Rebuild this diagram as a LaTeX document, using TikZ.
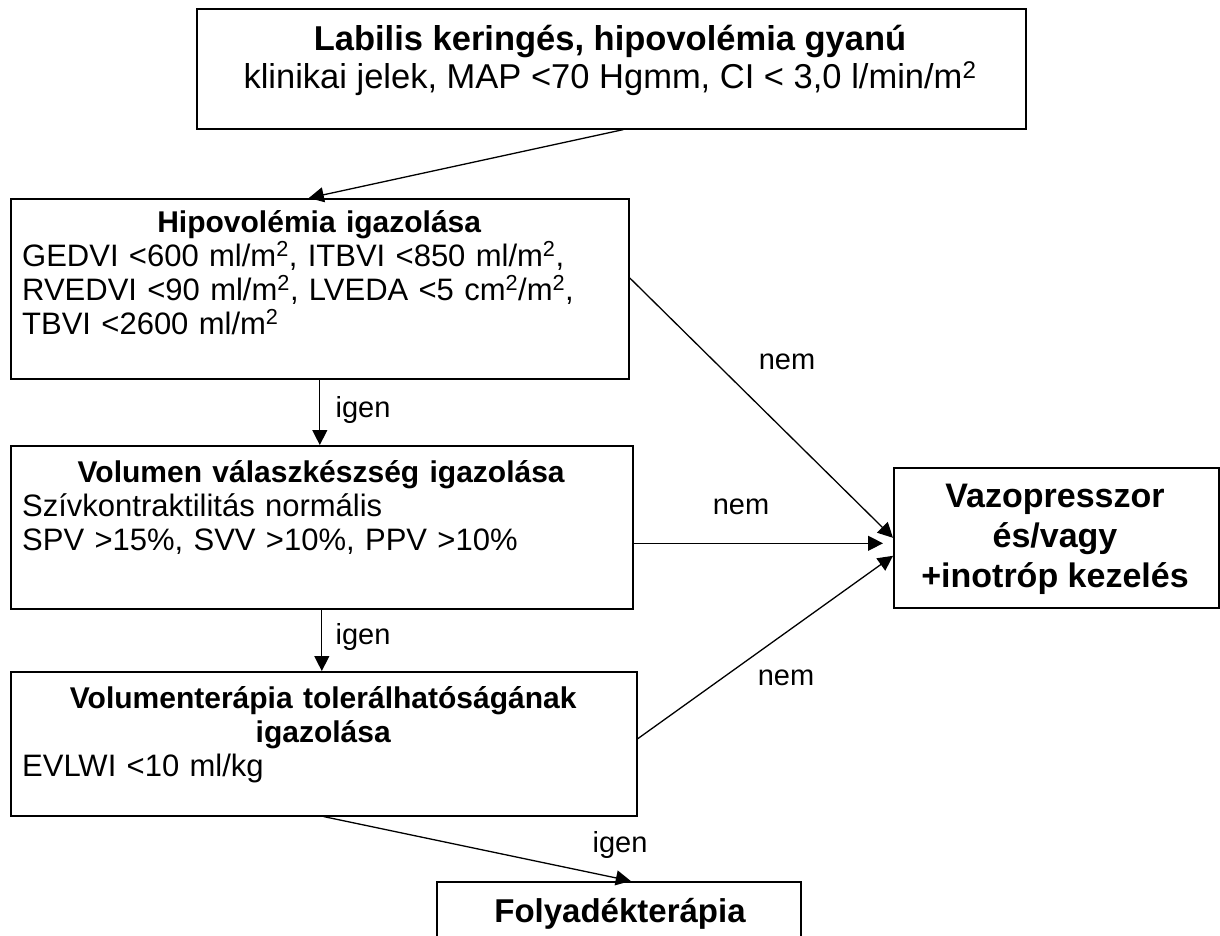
\documentclass[tikz,border=0pt]{standalone}
\usepackage{fontspec}
\setmainfont{Liberation Sans}
\usetikzlibrary{arrows.meta, positioning}

\begin{document}
\begin{tikzpicture}[x=1pt, y=-1pt,
    box/.style={draw, line width=1.6pt, inner sep=0pt, anchor=north west},
    body/.style={inner sep=0pt, anchor=base west, font=\fontsize{31}{34}\selectfont},
    big/.style={inner sep=0pt, anchor=base, align=center, font=\fontsize{34}{40}\selectfont\bfseries},
    answer/.style={inner sep=0pt, font=\fontsize{29}{33}\selectfont},
    link/.style={line width=1.3pt, -{Triangle[length=15pt, width=15pt]}}]
  \useasboundingbox (0,0) rectangle (1220,935);
  \fill[white] (0,0) rectangle (1220,935);

  % boxes
  \node[box, minimum width=829pt, minimum height=120pt] (susp) at (196,8) {};
  \node[box, minimum width=618pt, minimum height=180pt] (hipo) at (10,198) {};
  \node[box, minimum width=622pt, minimum height=163pt] (vol) at (10,445) {};
  \node[box, minimum width=626pt, minimum height=144pt] (tol) at (10,671) {};
  \node[box, minimum width=325pt, minimum height=140pt] (vazo) at (893,467) {};
  \node[box, minimum width=364pt, minimum height=120pt] (fluid) at (436,881) {};

  % texts (base of a centred block = its last line)
  \node[inner sep=0pt, anchor=base, align=center, font=\fontsize{34.5}{38}\selectfont] (susptxt) at (610,88)
    {\textbf{Labilis keringés, hipovolémia gyanú}\\klinikai jelek, MAP <70 Hgmm, CI < 3,0 l/min/m\textsuperscript{2}};
  \node[body, text width=594pt] (hipotxt) at (22,232)
    {{\fontsize{30}{34}\selectfont\centering\bfseries Hipovolémia igazolása\par}\raggedright
     GEDVI <600 ml/m\textsuperscript{2}, ITBVI <850 ml/m\textsuperscript{2},\\
     RVEDVI <90 ml/m\textsuperscript{2}, LVEDA <5 cm\textsuperscript{2}/m\textsuperscript{2},\\
     TBVI <2600 ml/m\textsuperscript{2}};
  \node[body, text width=598pt] (voltxt) at (22,482)
    {{\fontsize{30}{34}\selectfont\centering\bfseries Volumen válaszkészség igazolása\par}\raggedright
     Szívkontraktilitás normális\\
     SPV >15\%, SVV >10\%, PPV >10\%};
  \node[body, text width=602pt] (toltxt) at (22,708)
    {{\fontsize{30}{34}\selectfont\centering\bfseries Volumenterápia tolerálhatóságának\\igazolása\par}\raggedright
     EVLWI <10 ml/kg};
  \node[big] (vazotxt) at (1055,587) {Vazopresszor\\és/vagy\\+inotróp kezelés};
  \node[big, font=\fontsize{33}{40}\selectfont\bfseries] (fluidtxt) at (620,922) {Folyadékterápia};

  % connectors
  \draw[link] ([xshift=12pt]susp.south) -- ([xshift=-11pt]hipo.north);
  \draw[link] (hipo.south) -- (hipo.south |- vol.north);
  \draw[link] (vol.south) -- (vol.south |- tol.north);
  \draw[link] (tol.south) -- ([xshift=12pt]fluid.north);
  \coordinate (volout) at ([yshift=-16pt]vol.east);
  \draw[link] ([yshift=11pt]hipo.east) -- (vazo.west);
  \draw[link, shorten >=10pt] (volout) -- (volout -| vazo.west);
  \draw[link] ([yshift=5pt]tol.east) -- ([yshift=-18pt]vazo.west);

  % answers
  \node[answer] (yes1) at (363,410) {igen};
  \node[answer] (yes2) at (363,637) {igen};
  \node[answer] (yes3) at (620,845) {igen};
  \node[answer] (no1) at (787,362) {nem};
  \node[answer] (no2) at (741,507) {nem};
  \node[answer] (no3) at (786,678) {nem};
\end{tikzpicture}
\end{document}
